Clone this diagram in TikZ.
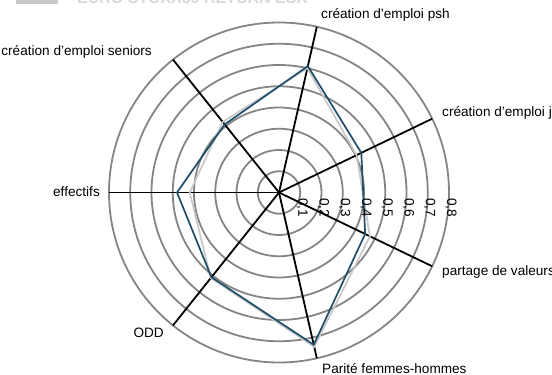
\documentclass[tikz,border=0pt]{standalone}
\usepackage{fontspec}
\setmainfont{Liberation Sans}
\definecolor{ringgray}{HTML}{858585}
\definecolor{darkser}{HTML}{1F4E6B}
\definecolor{lightser}{HTML}{C8C8C8}
\definecolor{titlegray}{HTML}{D8D8D8}
\begin{document}
\begin{tikzpicture}[x=1pt,y=-1pt,
  lbl/.style={font=\fontsize{13.6}{16}\selectfont, inner sep=0pt, text=black},
  ticklbl/.style={font=\fontsize{13.6}{16}\selectfont, inner sep=0pt, rotate=-90, anchor=west},
  ringline/.style={draw=ringgray, line width=1.8pt},
  axisline/.style={draw=black, line width=1.8pt},
  darkline/.style={draw=darkser, line width=1.7pt, line join=miter},
  lightline/.style={draw=lightser, line width=1.7pt, line join=miter}]
\useasboundingbox (0,0) rectangle (552,375);
\clip (0,0) rectangle (552,375);
\def\cx{279}
\def\cy{192.5}
\coordinate (c) at (\cx,\cy);
% title (clipped)
\fill[lightser] (16,-8) rectangle (58,4) coordinate (legbox);
\node[font=\bfseries\fontsize{16}{18}\selectfont, text=titlegray, inner sep=0pt, anchor=base west] (title) at (77,3.5) {EURO STOXX50 RETURN ESR};
% rings
\foreach \k in {1,...,8} \draw[ringline] (c) circle ({\k*21.25});
% axes
\foreach \nm/\a in {eff/180, sen/128.571, psh/77.143, jeu/25.714, par/-25.714, pf/-77.143, odd/-128.571}{
  \coordinate (e-\nm) at ({\cx+170*cos(\a)},{\cy-170*sin(\a)});
  \draw[axisline] (c) -- (e-\nm);
}
% series points
\foreach \nm/\a/\v in {eff/180/0.42, sen/128.571/0.425, psh/77.143/0.60, jeu/25.714/0.405, par/-25.714/0.475, pf/-77.143/0.745, odd/-128.571/0.515}{
  \coordinate (l-\nm) at ({\cx+212.5*\v*cos(\a)},{\cy-212.5*\v*sin(\a)});
}
\foreach \nm/\a/\v in {eff/180/0.48, sen/128.571/0.41, psh/77.143/0.61, jeu/25.714/0.43, par/-25.714/0.45, pf/-77.143/0.735, odd/-128.571/0.51}{
  \coordinate (d-\nm) at ({\cx+212.5*\v*cos(\a)},{\cy-212.5*\v*sin(\a)});
}
\draw[lightline] (l-psh) -- (l-jeu) -- (l-par) -- (l-pf) -- (l-odd) -- (l-eff) -- (l-sen) -- cycle;
\draw[darkline] (d-psh) -- (d-jeu) -- (d-par) -- (d-pf) -- (d-odd) -- (d-eff) -- (d-sen) -- cycle;
% tick labels
\foreach \k in {1,...,8} \node[ticklbl] (t\k) at ({\cx+\k*21.25+2},198) {0,\k};
% axis names
\node[lbl, anchor=west] (n-psh) at (321,15) {création d'emploi psh};
\node[lbl, anchor=east] (n-sen) at (152,52) {création d'emploi seniors};
\node[lbl, anchor=west] (n-jeu) at (442,113) {création d'emploi jeunes};
\node[lbl, anchor=west] (n-par) at (442,272) {partage de valeurs};
\node[lbl, anchor=west] (n-pf) at (322,369) {Parité femmes-hommes};
\node[lbl, anchor=east] (n-odd) at (164,333) {ODD};
\node[lbl, anchor=east] (n-eff) at (100,192) {effectifs};
\end{tikzpicture}
\end{document}
